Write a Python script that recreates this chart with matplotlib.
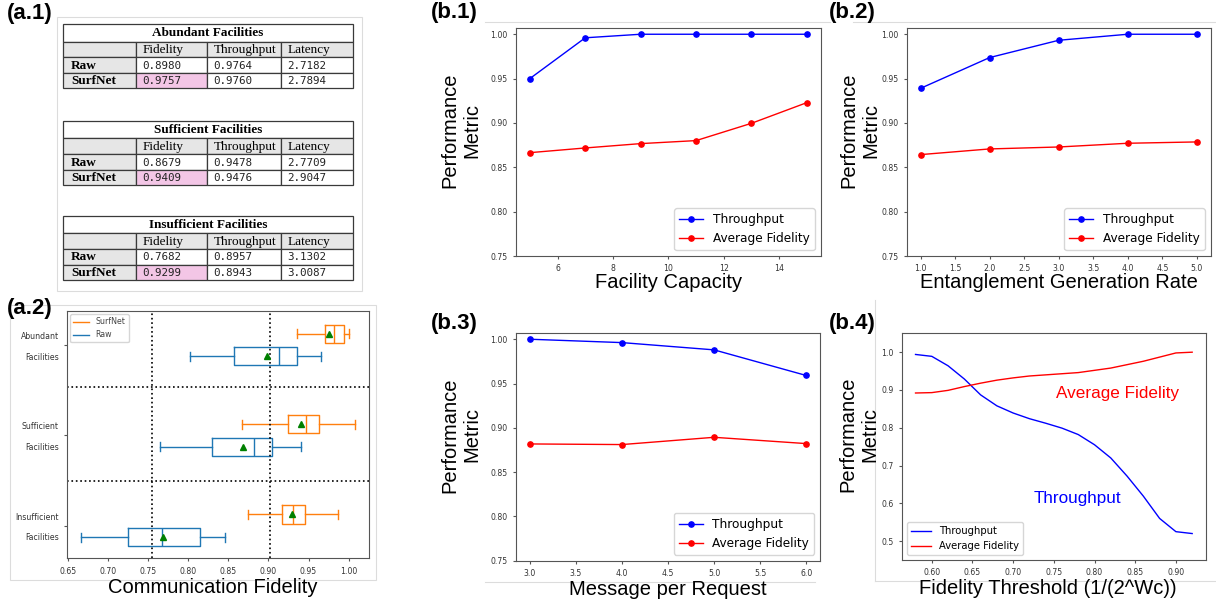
import matplotlib
matplotlib.use('Agg')
import matplotlib.pyplot as plt
from matplotlib.patches import Rectangle
from matplotlib.lines import Line2D
import numpy as np

plt.rcParams['font.family'] = 'DejaVu Sans'

# ---- (a.1) tables ----
scenarios = ['Abundant Facilities', 'Sufficient Facilities', 'Insufficient Facilities']
metrics = ['Fidelity', 'Throughput', 'Latency']
methods = ['Raw', 'SurfNet']
raw_vals = [[0.8980, 0.9764, 2.7182], [0.8679, 0.9478, 2.7709], [0.7682, 0.8957, 3.1302]]
surf_vals = [[0.9757, 0.9760, 2.7894], [0.9409, 0.9476, 2.9047], [0.9299, 0.8943, 3.0087]]

# ---- (a.2) box stats: whislo, q1, med, q3, whishi ----
box_labels = ['Abundant\n\nFacilities', 'Sufficient\n\nFacilities', 'Insufficient\n\nFacilities']
surf_box = [[0.936, 0.970, 0.982, 0.994, 1.000],
            [0.867, 0.924, 0.947, 0.963, 1.008],
            [0.875, 0.917, 0.931, 0.946, 0.987]]
raw_box = [[0.802, 0.857, 0.913, 0.936, 0.965],
           [0.765, 0.829, 0.882, 0.904, 0.940],
           [0.666, 0.725, 0.767, 0.814, 0.846]]
surf_mean = [0.9757, 0.9409, 0.9299]
raw_mean = [0.8980, 0.8679, 0.7682]
fid_refs = [0.754, 0.902]
group_seps = [1.46, 2.5]

# ---- (b.1) facility capacity ----
b1_x = [5, 7, 9, 11, 13, 15]
b1_thr = [0.950, 0.996, 1.0, 1.0, 1.0, 1.0]
b1_fid = [0.8665, 0.8718, 0.8767, 0.8801, 0.8996, 0.9229]

# ---- (b.2) entanglement generation rate ----
b2_x = [1, 2, 3, 4, 5]
b2_thr = [0.939, 0.9737, 0.9932, 1.0, 1.0]
b2_fid = [0.8643, 0.8707, 0.8729, 0.8771, 0.8786]

# ---- (b.3) message per request ----
b3_x = [3, 4, 5, 6]
b3_thr = [1.0, 0.9962, 0.988, 0.9591]
b3_fid = [0.8818, 0.8811, 0.8893, 0.8822]

# ---- (b.4) fidelity threshold ----
b4_x = [0.58, 0.60, 0.62, 0.64, 0.66, 0.68, 0.70, 0.72, 0.74,
        0.76, 0.78, 0.80, 0.82, 0.84, 0.86, 0.88, 0.90, 0.92]
b4_thr = [0.994, 0.989, 0.964, 0.929, 0.887, 0.858, 0.839, 0.824, 0.812,
          0.799, 0.782, 0.755, 0.720, 0.672, 0.619, 0.560, 0.525, 0.520]
b4_fid = [0.892, 0.893, 0.899, 0.909, 0.918, 0.926, 0.932, 0.937, 0.940,
          0.943, 0.946, 0.952, 0.958, 0.967, 0.976, 0.987, 0.998, 1.000]

W, H = 1216, 606
fig = plt.figure(figsize=(W/100, H/100), dpi=100)

big = dict(family='Liberation Sans', fontsize=14.5)
spine_c = '#555555'

# overlay in pixel coords for tables, panel labels, frames
ov = fig.add_axes([0, 0, 1, 1], zorder=-1)
ov.set_xlim(0, W)
ov.set_ylim(H, 0)
ov.axis('off')

frame_c = '#dcdcdc'
ov.add_patch(Rectangle((57, 17), 305, 274, fc='white', ec=frame_c, lw=0.8))
ov.add_patch(Rectangle((10, 305), 366, 275, fc='white', ec=frame_c, lw=0.8))
ov.plot([485, 830], [22, 22], color=frame_c, lw=0.8)
ov.plot([853, 1216], [22, 22], color=frame_c, lw=0.8)
ov.plot([485, 815], [582, 582], color=frame_c, lw=0.8)
ov.plot([875, 875], [300, 581], color=frame_c, lw=0.8)
ov.plot([875, 1216], [581, 581], color=frame_c, lw=0.8)

for lab, x, y in [('(a.1)', 7, 3), ('(a.2)', 7, 298), ('(b.1)', 431, 2),
                  ('(b.2)', 829, 2), ('(b.3)', 431, 313), ('(b.4)', 829, 313)]:
    ov.text(x, y, lab, ha='left', va='top', family='Liberation Sans',
            weight='bold', fontsize=16)

# tables
col_x = [63, 136, 207, 281, 353]
row_h = [17.4, 15.6, 16, 15]
tab_tops = [24.3, 121, 216]
gray = '#e6e6e6'
pink = '#f3c6e6'
edge = '#3a3a3a'
for t, top in enumerate(tab_tops):
    y = top
    ov.add_patch(Rectangle((col_x[0], y), col_x[-1] - col_x[0], row_h[0],
                           fc='white', ec=edge, lw=0.9))
    ov.text((col_x[0] + col_x[-1]) / 2, y + row_h[0] / 2 + 0.5, scenarios[t],
            ha='center', va='center', family='Liberation Serif',
            weight='bold', fontsize=9.5)
    y += row_h[0]
    rows = [[''] + metrics,
            [methods[0]] + ['%.4f' % v for v in raw_vals[t]],
            [methods[1]] + ['%.4f' % v for v in surf_vals[t]]]
    for r, row in enumerate(rows):
        h = row_h[r + 1]
        for c, txt in enumerate(row):
            fc = 'white'
            if r == 0 or c == 0:
                fc = gray
            if r == 2 and c == 1:
                fc = pink
            ov.add_patch(Rectangle((col_x[c], y), col_x[c + 1] - col_x[c], h,
                                   fc=fc, ec=edge, lw=0.9))
            if r == 0:
                kw = dict(family='Liberation Serif', fontsize=9.5)
            elif c == 0:
                kw = dict(family='Liberation Serif', fontsize=9.5, weight='bold')
            else:
                kw = dict(family='DejaVu Sans Mono', fontsize=7.8, color='#222222')
            pad = 8 if c == 0 else 6.5
            ov.text(col_x[c] + pad, y + h / 2 + 0.5, txt, ha='left', va='center', **kw)
        y += h

# ---- (a.2) box plot ----
ax = fig.add_axes([67/W, 1 - 558.3/H, 302/W, 247.3/H])
pos = np.arange(1, len(box_labels) + 1)
for boxes, means, col, off in [(surf_box, surf_mean, 'tab:orange', -0.125),
                               (raw_box, raw_mean, 'tab:blue', 0.125)]:
    stats = [dict(whislo=b[0], q1=b[1], med=b[2], q3=b[3], whishi=b[4], mean=m)
             for b, m in zip(boxes, means)]
    lp = dict(color=col, lw=1.0)
    ax.bxp(stats, positions=pos + off, widths=0.2, orientation='horizontal',
           showmeans=True, showfliers=False, boxprops=lp, whiskerprops=lp,
           capprops=lp, medianprops=lp,
           meanprops=dict(marker='^', markerfacecolor='green',
                          markeredgecolor='green', markersize=4))
for v in fid_refs:
    ax.axvline(v, color='black', ls=':', lw=1.2)
for v in group_seps:
    ax.axhline(v, color='black', ls=':', lw=1.2)
ax.set_yticks(pos, box_labels)
ax.set_ylim(3.36, 0.624)
ax.set_xticks([0.65, 0.70, 0.75, 0.80, 0.85, 0.90, 0.95, 1.00])
ax.set_xticklabels(['%.2f' % v for v in ax.get_xticks()])
ax.set_xlim(0.6485, 1.0255)
ax.tick_params(labelsize=5.6, length=2.5, labelcolor='#333333', color=spine_c)
for s in ax.spines.values():
    s.set_color(spine_c)
ax.set_xlabel('Communication Fidelity', **big)
ax.xaxis.set_label_coords(0.483, -0.08)
ax.legend(handles=[Line2D([], [], color='tab:orange', lw=1.0, label='SurfNet'),
                   Line2D([], [], color='tab:blue', lw=1.0, label='Raw')],
          loc='upper left', fontsize=5.7, labelcolor='#444444',
          borderaxespad=0.4)


def line_panel(rect, x, thr, fid, xlabel, ylab_x, markers=True):
    a = fig.add_axes(rect)
    m = 'o' if markers else None
    a.plot(x, thr, color='blue', marker=m, lw=1.0, ms=3.8, label='Throughput')
    a.plot(x, fid, color='red', marker=m, lw=1.0, ms=3.8, label='Average Fidelity')
    a.tick_params(labelsize=5.6, length=2.5, labelcolor='#333333', color=spine_c)
    for s in a.spines.values():
        s.set_color(spine_c)
    a.set_xlabel(xlabel, **big)
    a.set_ylabel('Performance\nMetric', **big)
    a.yaxis.set_label_coords(ylab_x, 0.553)
    return a


ax1 = line_panel([516/W, 1 - 256/H, 304.7/W, 227.7/H], b1_x, b1_thr, b1_fid,
                 'Facility Capacity', -0.115)
ax1.set_ylim(0.75, 1.0067)
ax1.xaxis.set_label_coords(0.5, -0.075)
ax1.legend(loc='lower right', fontsize=8.7)

ax2 = line_panel([906.7/W, 1 - 256/H, 304/W, 227.7/H], b2_x, b2_thr, b2_fid,
                 'Entanglement Generation Rate', -0.088)
ax2.set_ylim(0.75, 1.0067)
ax2.set_xticks([1.0, 1.5, 2.0, 2.5, 3.0, 3.5, 4.0, 4.5, 5.0])
ax2.xaxis.set_label_coords(0.5, -0.075)
ax2.legend(loc='lower right', fontsize=8.7)

ax3 = line_panel([516/W, 1 - 560.7/H, 304/W, 227.4/H], b3_x, b3_thr, b3_fid,
                 'Message per Request', -0.113)
ax3.set_ylim(0.75, 1.0067)
ax3.set_xticks([3.0, 3.5, 4.0, 4.5, 5.0, 5.5, 6.0])
ax3.xaxis.set_label_coords(0.5, -0.083)
ax3.legend(loc='lower right', fontsize=8.7)

ax4 = line_panel([901.7/W, 1 - 560/H, 304.3/W, 226.7/H], b4_x, b4_thr, b4_fid,
                 'Fidelity Threshold (1/(2^W\u1d04))', -0.072, markers=False)
ax4.xaxis.label.set_family(['Liberation Sans', 'DejaVu Sans'])
ax4.set_ylim(0.45, 1.05)
ax4.set_xticks([0.60, 0.65, 0.70, 0.75, 0.80, 0.85, 0.90])
ax4.xaxis.set_label_coords(0.48, -0.083)
ax4.legend(loc='lower left', fontsize=7.2)
ax4.text(0.828, 0.89, 'Average Fidelity', color='red', ha='center', va='center',
         family='Liberation Sans', fontsize=12.3)
ax4.text(0.779, 0.613, 'Throughput', color='blue', ha='center', va='center',
         family='Liberation Sans', fontsize=12.3)

fig.savefig('out.png', dpi=100)
